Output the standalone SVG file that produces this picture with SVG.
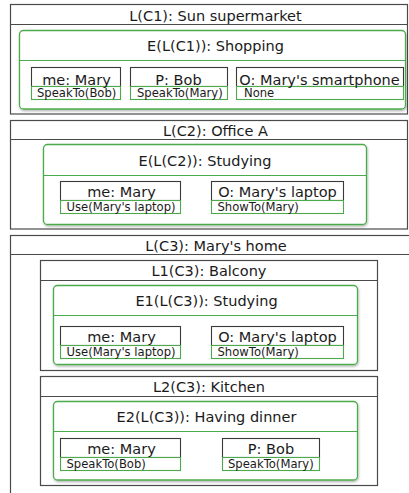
<svg xmlns="http://www.w3.org/2000/svg" width="409" height="493" viewBox="0 0 409 493">
  <style>
    .loc { fill: #ffffff; stroke: #4a4a4a; stroke-width: 1.2; }
    .hdr { stroke: #4a4a4a; stroke-width: 1.2; fill: none; }
    .evt { fill: #ffffff; stroke: #4caa4c; stroke-width: 1.3; filter: url(#shade); }
    .ehdr { stroke: #4caa4c; stroke-width: 1.2; fill: none; }
    .ent { fill: #ffffff; stroke: #3a3a3a; stroke-width: 1.1; }
    .act { fill: #ffffff; stroke: #4caa4c; stroke-width: 1.1; }
    .title { font-family: "DejaVu Sans", "Liberation Sans", sans-serif; font-size: 14.5px; fill: #1a1a1a; text-anchor: middle; }
    .attr { font-family: "DejaVu Sans", "Liberation Sans", sans-serif; font-size: 11.6px; fill: #1a1a1a; }
  </style>
  <defs>
    <filter id="shade" x="-5%" y="-5%" width="110%" height="115%">
      <feDropShadow dx="0.6" dy="1.4" stdDeviation="0.9" flood-color="#000000" flood-opacity="0.3"/>
    </filter>
  </defs>
  <rect x="0" y="0" width="409" height="493" fill="#ffffff"/>

  <!-- Location C1 -->
  <g id="L-C1">
    <rect class="loc" x="10.5" y="4.5" width="397" height="109.5"/>
    <line class="hdr" x1="10.5" y1="24.5" x2="407.5" y2="24.5"/>
    <text class="title" x="215.5" y="20.5">L(C1): Sun supermarket</text>
    <g id="E-L-C1">
      <rect class="evt" x="19.5" y="30.5" width="386" height="78.5" rx="4"/>
      <line class="ehdr" x1="19.5" y1="60.5" x2="405.5" y2="60.5"/>
      <text class="title" x="215.5" y="50.7">E(L(C1)): Shopping</text>
      <g id="C1-me-Mary">
        <rect class="ent" x="31.5" y="67.5" width="89" height="19"/>
        <rect class="act" x="31.5" y="86.5" width="89" height="13"/>
        <text class="title" x="76.5" y="84.5">me: Mary</text>
        <text class="attr" x="37" y="97.3">SpeakTo(Bob)</text>
      </g>
      <g id="C1-P-Bob">
        <rect class="ent" x="130.5" y="67.5" width="97" height="19"/>
        <rect class="act" x="130.5" y="86.5" width="97" height="13"/>
        <text class="title" x="178.5" y="84.5">P: Bob</text>
        <text class="attr" x="137" y="97.3">SpeakTo(Mary)</text>
      </g>
      <g id="C1-O-smartphone">
        <rect class="ent" x="236.5" y="67.5" width="167" height="19"/>
        <rect class="act" x="236.5" y="86.5" width="167" height="13"/>
        <text class="title" x="319.5" y="84.5">O: Mary's smartphone</text>
        <text class="attr" x="244" y="97.3">None</text>
      </g>
    </g>
  </g>

  <!-- Location C2 -->
  <g id="L-C2">
    <rect class="loc" x="10.5" y="120.5" width="397" height="108.5"/>
    <line class="hdr" x1="10.5" y1="139.5" x2="407.5" y2="139.5"/>
    <text class="title" x="215.5" y="135.7">L(C2): Office A</text>
    <g id="E-L-C2">
      <rect class="evt" x="43.5" y="144.5" width="323" height="80" rx="4"/>
      <line class="ehdr" x1="43.5" y1="175.5" x2="366.5" y2="175.5"/>
      <text class="title" x="205" y="166">E(L(C2)): Studying</text>
      <g id="C2-me-Mary">
        <rect class="ent" x="60.5" y="181.5" width="120" height="19"/>
        <rect class="act" x="60.5" y="200.5" width="120" height="13"/>
        <text class="title" x="121.5" y="197.3">me: Mary</text>
        <text class="attr" x="66.5" y="211">Use(Mary's laptop)</text>
      </g>
      <g id="C2-O-laptop">
        <rect class="ent" x="211.5" y="181.5" width="132" height="19"/>
        <rect class="act" x="211.5" y="200.5" width="132" height="13"/>
        <text class="title" x="277.5" y="197.3">O: Mary's laptop</text>
        <text class="attr" x="217.5" y="211">ShowTo(Mary)</text>
      </g>
    </g>
  </g>

  <!-- Location C3 -->
  <g id="L-C3">
    <rect class="loc" x="10.5" y="235.5" width="410" height="270"/>
    <line class="hdr" x1="10.5" y1="254.5" x2="420.5" y2="254.5"/>
    <text class="title" x="216" y="250.7">L(C3): Mary's home</text>

    <g id="L1-C3">
      <rect class="loc" x="40.5" y="260.5" width="337" height="110"/>
      <line class="hdr" x1="40.5" y1="280.5" x2="377.5" y2="280.5"/>
      <text class="title" x="209" y="276">L1(C3): Balcony</text>
      <g id="E1-L-C3">
        <rect class="evt" x="53.5" y="285.5" width="304" height="79" rx="4"/>
        <line class="ehdr" x1="53.5" y1="315.5" x2="357.5" y2="315.5"/>
        <text class="title" x="206.5" y="306">E1(L(C3)): Studying</text>
        <g id="C3-1-me-Mary">
          <rect class="ent" x="60.5" y="326.5" width="120" height="19"/>
          <rect class="act" x="60.5" y="345.5" width="120" height="13"/>
          <text class="title" x="121.5" y="341.5">me: Mary</text>
          <text class="attr" x="66.5" y="355.5">Use(Mary's laptop)</text>
        </g>
        <g id="C3-1-O-laptop">
          <rect class="ent" x="211.5" y="326.5" width="132" height="19"/>
          <rect class="act" x="211.5" y="345.5" width="132" height="13"/>
          <text class="title" x="277.5" y="341.5">O: Mary's laptop</text>
          <text class="attr" x="217.5" y="355.5">ShowTo(Mary)</text>
        </g>
      </g>
    </g>

    <g id="L2-C3">
      <rect class="loc" x="40.5" y="376.5" width="337" height="109"/>
      <line class="hdr" x1="40.5" y1="396.5" x2="377.5" y2="396.5"/>
      <text class="title" x="209" y="392.3">L2(C3): Kitchen</text>
      <g id="E2-L-C3">
        <rect class="evt" x="53.5" y="401.5" width="304" height="78.5" rx="4"/>
        <line class="ehdr" x1="53.5" y1="431.5" x2="357.5" y2="431.5"/>
        <text class="title" x="206.5" y="422.3">E2(L(C3)): Having dinner</text>
        <g id="C3-2-me-Mary">
          <rect class="ent" x="60.5" y="438.5" width="120" height="19"/>
          <rect class="act" x="60.5" y="457.5" width="120" height="13"/>
          <text class="title" x="121.5" y="454.3">me: Mary</text>
          <text class="attr" x="66.5" y="468.3">SpeakTo(Bob)</text>
        </g>
        <g id="C3-2-P-Bob">
          <rect class="ent" x="222.5" y="438.5" width="97" height="19"/>
          <rect class="act" x="222.5" y="457.5" width="97" height="13"/>
          <text class="title" x="271" y="454.3">P: Bob</text>
          <text class="attr" x="228" y="468.3">SpeakTo(Mary)</text>
        </g>
      </g>
    </g>
  </g>
</svg>
